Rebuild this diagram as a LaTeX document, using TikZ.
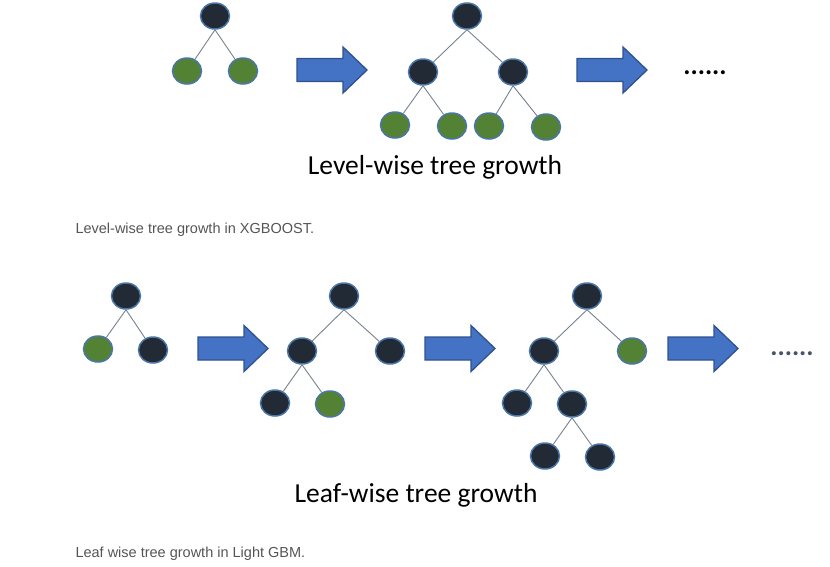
\documentclass[tikz,border=0pt]{standalone}
\usepackage{fontspec}
\setmainfont{Carlito}
\newfontfamily\capfont{Liberation Sans}
\usetikzlibrary{shapes.geometric}
\definecolor{nodedark}{HTML}{222A35}
\definecolor{nodegreen}{HTML}{548235}
\definecolor{nodeedge}{HTML}{4A76A8}
\definecolor{arrowfill}{HTML}{4472C4}
\definecolor{arrowedge}{HTML}{2F528F}
\definecolor{linkgray}{HTML}{76828F}
\definecolor{capgray}{HTML}{555555}
\definecolor{dotblue}{HTML}{44546A}
\tikzset{
  treenode/.style={ellipse, draw=nodeedge, line width=1.5pt, inner sep=0pt,
    minimum width=29pt, minimum height=26pt},
  darknode/.style={treenode, fill=nodedark},
  greennode/.style={treenode, fill=nodegreen},
  link/.style={draw=linkgray, line width=0.9pt},
  bigarrow/.style={fill=arrowfill, draw=arrowedge, line width=1.3pt, line join=miter},
  title/.style={font=\fontsize{27.5}{32}\selectfont, text=black},
  caption/.style={font=\capfont\fontsize{14.5}{17}\selectfont, text=capgray, anchor=west},
  dots/.style={font=\fontsize{27}{30}\selectfont\bfseries},
  blockarrow/.pic={
    \path[bigarrow] (0,-11.5) -- (46,-11.5) -- (46,-23) -- (70,0) -- (46,23)
      -- (46,11.5) -- (0,11.5) -- cycle;
  }
}
\begin{document}
\begin{tikzpicture}[x=1pt,y=-1pt]
\useasboundingbox (0,0) rectangle (830,566);

% ---------- level-wise growth ----------
\node[darknode]  (a0) at (215,16) {};
\node[greennode] (a1) at (187,71) {};
\node[greennode] (a2) at (243,71) {};
\draw[link] (a0.south) -- (a1) (a0.south) -- (a2);

\pic at (297,70) {blockarrow};

\node[darknode]  (b0) at (467,16) {};
\node[darknode]  (b1) at (423,72) {};
\node[darknode]  (b2) at (513,72) {};
\node[greennode] (b3) at (395,125) {};
\node[greennode] (b4) at (452,126) {};
\node[greennode] (b5) at (489,126) {};
\node[greennode] (b6) at (546,127) {};
\draw[link] (b0.south) -- (b1) (b0.south) -- (b2)
            (b1.south) -- (b3) (b1.south) -- (b4)
            (b2.south) -- (b5) (b2.south) -- (b6);

\pic at (577,70) {blockarrow};
\node[dots, text=black] (d1) at (705,73) {......};

\node[title] (t1) at (435,167) {Level-wise tree growth};
\node[caption] (c1) at (72,230) {Level-wise tree growth in XGBOOST.};

% ---------- leaf-wise growth ----------
\node[darknode]  (p0) at (126,296) {};
\node[greennode] (p1) at (98,349) {};
\node[darknode]  (p2) at (153,350) {};
\draw[link] (p0.south) -- (p1) (p0.south) -- (p2);

\pic at (198,348.5) {blockarrow};

\node[darknode]  (q0) at (344,296) {};
\node[darknode]  (q1) at (302,351) {};
\node[darknode]  (q2) at (390,351) {};
\node[darknode]  (q3) at (275,403) {};
\node[greennode] (q4) at (330,404) {};
\draw[link] (q0.south) -- (q1) (q0.south) -- (q2)
            (q1.south) -- (q3) (q1.south) -- (q4);

\pic at (425,348.5) {blockarrow};

\node[darknode]  (r0) at (587,296) {};
\node[darknode]  (r1) at (544,351) {};
\node[greennode] (r2) at (632,351) {};
\node[darknode]  (r3) at (517,403) {};
\node[darknode]  (r4) at (572,404) {};
\node[darknode]  (r5) at (545,456) {};
\node[darknode]  (r6) at (600,457) {};
\draw[link] (r0.south) -- (r1) (r0.south) -- (r2)
            (r1.south) -- (r3) (r1.south) -- (r4)
            (r4.south) -- (r5) (r4.south) -- (r6);

\pic at (668,348.5) {blockarrow};
\node[dots, text=dotblue] (d2) at (792,354) {......};

\node[title] (t2) at (416,495) {Leaf-wise tree growth};
\node[caption] (c2) at (72,554) {Leaf wise tree growth in Light GBM.};
\end{tikzpicture}
\end{document}
